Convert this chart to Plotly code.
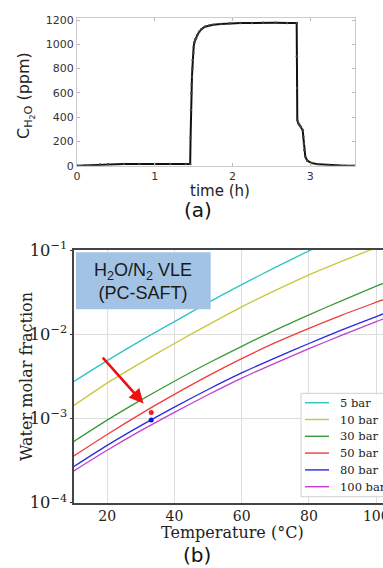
import math
import plotly.graph_objects as go

# ---------------- (a) humidity trace ----------------
time_h = [0.00, 0.10, 0.20, 0.30, 0.40, 0.60, 0.80, 1.00, 1.20, 1.40,
          1.455, 1.460, 1.465, 1.469, 1.474, 1.478, 1.483, 1.487, 1.494, 1.500,
          1.510, 1.520, 1.530, 1.550, 1.572, 1.600, 1.645, 1.700, 1.752, 1.850,
          1.967, 2.100, 2.250, 2.394, 2.550, 2.700, 2.824, 2.827, 2.829, 2.832,
          2.845, 2.860, 2.879, 2.901, 2.909, 2.916, 2.922, 2.935, 2.961, 3.017,
          3.102, 3.230, 3.337, 3.450, 3.570]
c_h2o_ppm = [0, 2, 6, 10, 12, 13, 13, 14, 14, 15,
             15, 230, 459, 596, 670, 733, 800, 870, 930, 980,
             1020, 1040, 1049, 1080, 1104, 1125, 1145, 1155, 1161, 1168,
             1173, 1175, 1176, 1178, 1177, 1176, 1175, 900, 640, 376,
             349, 335, 321, 294, 239, 180, 129, 74, 41, 22,
             11, 5, 2, 0, 0]

# ---------------- (b) VLE curves ----------------
temperature_c = [10, 20, 30, 40, 50, 60, 70, 80, 90, 100, 102]
y_5bar = [2.73e-3, 4.86e-3, 8.39e-3, 1.41e-2, 2.37e-2, 3.88e-2, 6.22e-2, 9.77e-2, 0.150, 0.226, 0.245]
y_10bar = [1.42e-3, 2.63e-3, 4.57e-3, 7.76e-3, 1.29e-2, 2.11e-2, 3.31e-2, 5.07e-2, 7.41e-2, 0.107, 0.115]
y_30bar = [5.30e-4, 9.55e-4, 1.65e-3, 2.77e-3, 4.52e-3, 7.19e-3, 1.12e-2, 1.70e-2, 2.53e-2, 3.72e-2, 4.01e-2]
y_50bar = [3.57e-4, 6.46e-4, 1.135e-3, 1.93e-3, 3.20e-3, 5.13e-3, 7.94e-3, 1.175e-2, 1.70e-2, 2.40e-2, 2.57e-2]
y_80bar = [2.67e-4, 4.79e-4, 8.22e-4, 1.365e-3, 2.21e-3, 3.47e-3, 5.25e-3, 7.76e-3, 1.135e-2, 1.62e-2, 1.74e-2]
y_100bar = [2.37e-4, 4.19e-4, 7.16e-4, 1.183e-3, 1.91e-3, 3.01e-3, 4.55e-3, 6.73e-3, 9.84e-3, 1.41e-2, 1.51e-2]

series_names = ["5 bar", "10 bar", "30 bar", "50 bar", "80 bar", "100 bar"]
series_values = [y_5bar, y_10bar, y_30bar, y_50bar, y_80bar, y_100bar]
series_colors = ["#2ec4c6", "#c8c83c", "#3a9a3a", "#f03c3c", "#2a2ae0", "#c040d0"]

point_T = [33.1, 33.1]
point_y = [1.18e-3, 9.57e-4]
point_colors = ["#f02020", "#1010e8"]

arrow_tail = (18.3, 5.5e-3)
arrow_head = (30.8, 1.51e-3)

W, H = 383, 568


def px_x(p):
    return p / W


def px_y(p):
    return 1 - p / H


fig = go.Figure()

fig.add_trace(go.Scatter(
    x=time_h, y=c_h2o_ppm, mode="lines+markers",
    line=dict(color="#111111", width=2),
    marker=dict(color="#444444", size=2.5),
    showlegend=False, xaxis="x", yaxis="y"))

for name, vals, col in zip(series_names, series_values, series_colors):
    fig.add_trace(go.Scatter(
        x=temperature_c, y=vals, mode="lines", name=name,
        line=dict(color=col, width=1.3, shape="spline", smoothing=0.8),
        showlegend=False, xaxis="x2", yaxis="y2"))

fig.add_trace(go.Scatter(
    x=point_T, y=point_y, mode="markers",
    marker=dict(color=point_colors, size=5),
    showlegend=False, xaxis="x2", yaxis="y2"))

sans = "DejaVu Sans"
serif = "DejaVu Serif"

# legend box (drawn as a compact matplotlib-style legend)
leg_left, leg_top, leg_bottom = 301, 393.3, 496.7
leg_row0, leg_step = 402.7, 16.8
shapes = [
    dict(type="rect", xref="paper", yref="paper",
         x0=px_x(76), x1=px_x(210.7), y0=px_y(309.3), y1=px_y(252.3),
         fillcolor="#a3c3e5", line=dict(width=0), layer="above"),
    dict(type="rect", xref="paper", yref="paper",
         x0=px_x(leg_left), x1=px_x(392), y0=px_y(leg_bottom), y1=px_y(leg_top),
         fillcolor="rgba(255,255,255,0.9)", line=dict(width=1, color="#d0d0d0"), layer="above"),
]
annotations = []
for i, (name, col) in enumerate(zip(series_names, series_colors)):
    yy = leg_row0 + i * leg_step
    shapes.append(dict(type="line", xref="paper", yref="paper",
                       x0=px_x(305), x1=px_x(329), y0=px_y(yy), y1=px_y(yy),
                       line=dict(color=col, width=1.4), layer="above"))
    annotations.append(dict(text=name, xref="paper", yref="paper", x=px_x(337.5), y=px_y(yy),
                            xanchor="left", yanchor="middle", showarrow=False,
                            font=dict(family=serif, size=11.5, color="#222222")))

annotations += [
    dict(text="C<sub>H<sub>2</sub>O</sub> (ppm)", xref="paper", yref="paper",
         x=px_x(25), y=px_y(96), xanchor="center", yanchor="middle", textangle=-90,
         showarrow=False, font=dict(family=sans, size=16, color="#222222")),
    dict(text="time (h)", xref="paper", yref="paper", x=px_x(220), y=px_y(191),
         xanchor="center", yanchor="middle", showarrow=False,
         font=dict(family=sans, size=15, color="#222222")),
    dict(text="Water molar fraction", xref="paper", yref="paper",
         x=px_x(27), y=px_y(377), xanchor="center", yanchor="middle", textangle=-90,
         showarrow=False, font=dict(family=serif, size=16, color="#222222")),
    dict(text="Temperature (°C)", xref="paper", yref="paper", x=px_x(232.5), y=px_y(532),
         xanchor="center", yanchor="middle", showarrow=False,
         font=dict(family=serif, size=16, color="#222222")),
    dict(text="H<sub>2</sub>O/N<sub>2</sub> VLE<br>(PC-SAFT)", xref="paper", yref="paper",
         x=px_x(143.3), y=px_y(281), xanchor="center", yanchor="middle",
         showarrow=False, font=dict(family="Liberation Sans", size=18, color="#1a1a1a")),
    dict(text="(a)", xref="paper", yref="paper", x=px_x(198), y=px_y(210),
         xanchor="center", yanchor="middle", showarrow=False,
         font=dict(family=sans, size=20, color="#111111")),
    dict(text="(b)", xref="paper", yref="paper", x=px_x(197), y=px_y(555),
         xanchor="center", yanchor="middle", showarrow=False,
         font=dict(family=sans, size=20, color="#111111")),
    dict(x=arrow_head[0], y=math.log10(arrow_head[1]), xref="x2", yref="y2",
         ax=arrow_tail[0], ay=math.log10(arrow_tail[1]), axref="x2", ayref="y2",
         showarrow=True, arrowhead=2, arrowsize=1.1, arrowwidth=2.6,
         arrowcolor="#ee1111", text=""),
]

fig.update_layout(
    width=W, height=H,
    margin=dict(l=0, r=0, t=0, b=0, autoexpand=False),
    paper_bgcolor="white", plot_bgcolor="white",
    showlegend=False,
    xaxis=dict(domain=[px_x(77), px_x(354.7)], range=[0, 3.57],
               tickvals=[0, 1, 2, 3], ticks="inside", ticklen=3,
               tickcolor="#bbbbbb", showgrid=False, zeroline=False,
               showline=True, linecolor="#cccccc", linewidth=1, mirror="allticks",
               tickfont=dict(family=sans, size=11, color="#333333"),
               ticklabeloverflow="allow", automargin=False, anchor="y"),
    yaxis=dict(domain=[px_y(165.7), px_y(18.0)], range=[0, 1217],
               tickvals=[0, 200, 400, 600, 800, 1000, 1200], ticks="inside", ticklen=3,
               tickcolor="#bbbbbb", showgrid=False, zeroline=False,
               showline=True, linecolor="#cccccc", linewidth=1, mirror="allticks",
               tickfont=dict(family=sans, size=11, color="#333333"),
               ticklabeloverflow="allow", automargin=False, anchor="x"),
    xaxis2=dict(domain=[px_x(73.5), 1.0], range=[10, 102],
                tickvals=[20, 40, 60, 80, 100], ticks="", ticklen=0,
                showgrid=True, gridcolor="#dddddd", gridwidth=1,
                zeroline=False, showline=True, linecolor="#444444", linewidth=1.5,
                mirror=True,
                tickfont=dict(family=serif, size=14, color="#222222"),
                ticklabeloverflow="allow", automargin=False, anchor="y2"),
    yaxis2=dict(domain=[px_y(502.7), px_y(250)], type="log", range=[-4, -1],
                dtick=1, exponentformat="power", ticks="outside", ticklen=2,
                tickcolor="#333333", showgrid=True, gridcolor="#dddddd", gridwidth=1,
                zeroline=False, showline=True, linecolor="#444444", linewidth=1.5,
                mirror=True,
                tickfont=dict(family=serif, size=13, color="#222222"),
                ticklabeloverflow="allow", automargin=False, anchor="x2"),
    shapes=shapes,
    annotations=annotations,
)

fig.write_html(
    "out.html",
    config={"displayModeBar": False},
    post_script="document.body.style.margin='0px';document.documentElement.style.overflow='hidden';",
)
